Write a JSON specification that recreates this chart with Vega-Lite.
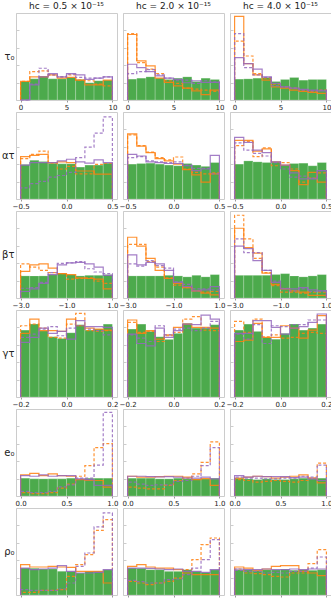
{
"$schema": "https://vega.github.io/schema/vega-lite/v6.json",
"background": "white",
"padding": {"left": 0, "top": 1, "right": 0, "bottom": 1},
"datasets": {
"edges": [
{"r": "τ₀", "x": [0,0,1,2,3,4,5,6,7,8,9,10], "i": [0,1,2,3,4,5,6,7,8,9,10,11]},
{"r": "ατ", "x": [-0.5,-0.5,-0.4,-0.3,-0.2,-0.1,0,0.1,0.2,0.3,0.4,0.5], "i": [0,1,2,3,4,5,6,7,8,9,10,11]},
{"r": "βτ", "x": [-3,-3,-2.6,-2.2,-1.8,-1.4,-1,-0.6,-0.2,0.2,0.6,1], "i": [0,1,2,3,4,5,6,7,8,9,10,11]},
{"r": "γτ", "x": [-0.2,-0.2,-0.16,-0.12,-0.08,-0.04,0,0.04,0.08,0.12,0.16,0.2], "i": [0,1,2,3,4,5,6,7,8,9,10,11]},
{"r": "e₀", "x": [0,0,0.1,0.2,0.3,0.4,0.5,0.6,0.7,0.8,0.9,1], "i": [0,1,2,3,4,5,6,7,8,9,10,11]},
{"r": "ρ₀", "x": [-2,-2,-1.6,-1.2,-0.8,-0.4,0,0.4,0.8,1.2,1.6,2], "i": [0,1,2,3,4,5,6,7,8,9,10,11]}
]
},
"data": {"values": [
{"r":"τ₀","c":1,"s":"g","v":[0,21.3,24.3,27.4,24.3,24.3,25.9,23.6,19.8,22.1,22.8,0]},
{"r":"τ₀","c":1,"s":"os","v":[0,21.3,26.6,26.6,28.9,25.1,25.9,22.8,17.5,17.5,22.8,0]},
{"r":"τ₀","c":1,"s":"od","v":[0,21.3,32.7,33.5,28.9,26.6,28.9,22.8,22.1,18.3,16.3,0]},
{"r":"τ₀","c":1,"s":"ps","v":[0,0,17.5,26.6,30.4,26.6,30.4,28.9,23.6,25.1,26.6,0]},
{"r":"τ₀","c":1,"s":"pd","v":[0,0,18.3,36.5,28.9,26.6,29.7,25.9,25.1,25.1,26.6,0]},
{"r":"τ₀","c":2,"s":"g","v":[0,24,25.1,26.6,25.1,23.6,25.1,26.6,21.3,25.1,23.6,0]},
{"r":"τ₀","c":2,"s":"os","v":[0,75.3,44.9,39.2,25.1,20.2,16.3,13.7,10.6,6.1,11.4,0]},
{"r":"τ₀","c":2,"s":"od","v":[0,76.4,43,35.4,30.4,22.1,19,13.7,12.5,11.4,9.9,0]},
{"r":"τ₀","c":2,"s":"ps","v":[0,41.1,37.3,32.7,27.8,25.1,23.6,19.8,22.1,20.2,20.2,0]},
{"r":"τ₀","c":2,"s":"pd","v":[0,30.4,32.7,35,28.9,25.1,22.1,22.8,19,22.1,20.9,0]},
{"r":"τ₀","c":3,"s":"g","v":[0,24,24.3,25.1,25.9,21.3,23.6,25.9,22.8,23.6,23.6,0]},
{"r":"τ₀","c":3,"s":"os","v":[0,96.2,41.8,28.9,22.8,15.2,13.7,11.4,9.9,8.7,7.6,0]},
{"r":"τ₀","c":3,"s":"od","v":[0,67.7,50.6,30.4,25.1,18.3,15.2,13.7,11.4,9.9,11.4,0]},
{"r":"τ₀","c":3,"s":"ps","v":[0,48.7,41.8,35.4,26.6,19,15.2,13.7,12.2,11.4,10.6,0]},
{"r":"τ₀","c":3,"s":"pd","v":[0,76.4,37.3,28.9,25.9,16.3,15.2,13.7,11.4,10.6,11.4,0]},
{"r":"ατ","c":1,"s":"g","v":[0,39.7,44.6,43.1,41.2,40.4,40.4,36.7,39,39,41.2,0]},
{"r":"ατ","c":1,"s":"os","v":[0,48.7,50.2,51.3,41.9,42.7,41.9,32.2,32.2,28.5,28.5,0]},
{"r":"ατ","c":1,"s":"od","v":[0,46.4,51.3,55.1,41.2,34.5,37.5,28.8,28.8,39.7,40.8,0]},
{"r":"ατ","c":1,"s":"ps","v":[0,39,41.9,41.9,41.9,43.8,45.7,42.7,41.2,44.9,41.9,0]},
{"r":"ατ","c":1,"s":"pd","v":[0,12.7,17.6,20.2,25.1,27,30.7,47.6,59.6,75.7,94.4,0]},
{"r":"ατ","c":2,"s":"g","v":[0,40.1,40.8,41.2,40.1,39,38.2,40.8,39,37.5,41.9,0]},
{"r":"ατ","c":2,"s":"os","v":[0,74.9,60.7,53.2,46.4,43.8,40.1,33.7,27.7,19.5,28.8,0]},
{"r":"ατ","c":2,"s":"od","v":[0,73.8,61.4,53.9,47.6,44.9,48.3,34.5,30.7,28.8,30,0]},
{"r":"ατ","c":2,"s":"ps","v":[0,51.3,49.4,42.7,41.9,40.8,40.8,38.2,32.6,34.5,50.2,0]},
{"r":"ατ","c":2,"s":"pd","v":[0,47.6,48.7,43.8,42.7,41.9,42.7,39,35.2,35.2,28.8,0]},
{"r":"ατ","c":3,"s":"g","v":[0,40.1,43.8,42.7,41.9,42.7,39,40.8,41.2,38.2,41.9,0]},
{"r":"ατ","c":3,"s":"os","v":[0,67.4,67.4,55.1,57.7,42.7,39,32.6,16.5,30.7,19.5,0]},
{"r":"ατ","c":3,"s":"od","v":[0,61.4,66.3,48.7,58.8,38.2,41.9,34.5,19.5,24,30,0]},
{"r":"ατ","c":3,"s":"ps","v":[0,70.8,65.2,56.2,53.2,42.7,39,30,23.2,23.2,32.6,0]},
{"r":"ατ","c":3,"s":"pd","v":[0,64.4,56.2,52.4,49.4,41.9,34.5,25.1,26.2,24,32.6,0]},
{"r":"βτ","c":1,"s":"g","v":[0,25.4,25.4,25.4,26.9,28.4,26.9,25.4,26.1,26.1,26.9,0]},
{"r":"βτ","c":1,"s":"os","v":[0,30.6,38.1,39.2,34.3,28,26.9,23.1,22.4,21.6,10.4,0]},
{"r":"βτ","c":1,"s":"od","v":[0,39.2,35.4,31.7,29.1,28,21.6,22.4,23.1,19.4,16.8,0]},
{"r":"βτ","c":1,"s":"ps","v":[0,7.5,10.4,16.8,26.9,38.1,40.3,41,39.2,35.4,26.1,0]},
{"r":"βτ","c":1,"s":"pd","v":[0,11.2,11.9,17.9,29.1,39.9,40.3,41.8,33.6,29.9,28,0]},
{"r":"βτ","c":2,"s":"g","v":[0,25.4,25.4,25.4,25.4,26.1,25.4,24.3,26.1,24.3,26.9,0]},
{"r":"βτ","c":2,"s":"os","v":[0,69.8,59.7,45.5,31.7,22.4,16.8,11.9,8.2,5.6,3.7,0]},
{"r":"βτ","c":2,"s":"od","v":[0,61.6,61.6,41.8,35.4,23.1,14.9,11.9,8.2,6.7,7.5,0]},
{"r":"βτ","c":2,"s":"ps","v":[0,49.6,38.1,41,39.2,31.7,17.9,13.1,8.2,9.3,13.1,0]},
{"r":"βτ","c":2,"s":"pd","v":[0,39.2,36.6,42.9,37.3,34.3,18.7,15.7,10.4,10.4,9.3,0]},
{"r":"βτ","c":3,"s":"g","v":[0,26.1,26.1,26.1,26.1,26.9,28,25.4,24.3,25.4,26.9,0]},
{"r":"βτ","c":3,"s":"os","v":[0,80.2,57.8,51.5,28.7,15.7,10.4,8.2,6.7,3,3,0]},
{"r":"βτ","c":3,"s":"od","v":[0,95.1,67.9,45.5,29.1,14.2,6.7,6.7,5.6,6.7,6.7,0]},
{"r":"βτ","c":3,"s":"ps","v":[0,59.7,56.7,42.9,31.7,17.9,10.4,10.4,11.9,9.3,8.2,0]},
{"r":"βτ","c":3,"s":"pd","v":[0,67.9,52.2,52.2,31.7,19.4,11.2,8.2,10.4,7.5,8.2,0]},
{"r":"γτ","c":1,"s":"g","v":[0,76.9,83.8,76.2,69.2,67.3,73.8,83.1,76.9,78.1,83.8,0]},
{"r":"γτ","c":1,"s":"os","v":[0,73.1,89.6,76.2,76.2,75.4,89.6,81.9,79.2,78.1,76.9,0]},
{"r":"γτ","c":1,"s":"od","v":[0,81.9,83.8,79.2,68.5,67.7,83.8,96.2,76.2,75.4,76.2,0]},
{"r":"γτ","c":1,"s":"ps","v":[0,62.7,68.5,79.2,73.1,75.4,66.5,87.7,80.8,80.8,80,0]},
{"r":"γτ","c":1,"s":"pd","v":[0,68.5,72.3,78.1,80.8,70.4,79.2,81.9,78.1,76.2,71.5,0]},
{"r":"γτ","c":2,"s":"g","v":[0,78.1,83.8,75.4,69.2,66.2,73.1,84.6,79.2,79.2,83.1,0]},
{"r":"γτ","c":2,"s":"os","v":[0,88.5,73.1,76.2,66.5,71.5,80,83.8,80,80,79.2,0]},
{"r":"γτ","c":2,"s":"od","v":[0,85.8,74.2,75.4,63.8,70.4,74.2,89.6,92.3,76.9,76.2,0]},
{"r":"γτ","c":2,"s":"ps","v":[0,72.3,61.5,58.8,79.2,68.5,76.2,83.8,83.1,94.2,89.6,0]},
{"r":"γτ","c":2,"s":"pd","v":[0,71.5,67.7,63.8,81.9,71.5,78.1,79.2,76.2,79.2,86.9,0]},
{"r":"γτ","c":3,"s":"g","v":[0,76.9,83.8,75.4,68.5,66.5,73.1,83.8,76.9,79.2,83.8,0]},
{"r":"γτ","c":3,"s":"os","v":[0,63.8,65.4,84.6,68.5,68.5,81.9,79.2,67.7,76.9,93.5,0]},
{"r":"γτ","c":3,"s":"od","v":[0,86.9,74.2,89.6,69.2,71.5,67.7,68.5,73.1,74.2,73.1,0]},
{"r":"γτ","c":3,"s":"ps","v":[0,73.1,73.1,87.7,87.7,80,72.3,79.2,80.8,85.8,95.4,0]},
{"r":"γτ","c":3,"s":"pd","v":[0,72.3,66.5,83.1,61.5,81.9,80.8,83.1,83.1,88.5,88.5,0]},
{"r":"e₀","c":1,"s":"g","v":[0,20.5,19.7,19.7,19.7,19.7,20.5,19.7,20.5,20.5,20.5,0]},
{"r":"e₀","c":1,"s":"os","v":[0,24.2,26.1,23.5,25.4,23.5,22.7,18.9,17.8,17.8,10.2,0]},
{"r":"e₀","c":1,"s":"od","v":[0,3.8,2.7,2.7,3.8,9.1,13.6,22.7,34.8,55.7,60.2,0]},
{"r":"e₀","c":1,"s":"ps","v":[0,23.5,22.7,24.2,22.7,23.5,23.5,19.7,18.9,12.1,12.1,0]},
{"r":"e₀","c":1,"s":"pd","v":[0,5.3,3.8,3.8,5.3,10.6,12.9,20.5,20.5,35.6,96.2,0]},
{"r":"e₀","c":2,"s":"g","v":[0,20.5,20.5,20.5,19.7,19.7,20.5,19.7,19.7,19.7,20.5,0]},
{"r":"e₀","c":2,"s":"os","v":[0,22.7,21.6,21.6,22.3,22.7,22.7,21.6,18.9,20,12.1,0]},
{"r":"e₀","c":2,"s":"od","v":[0,10.2,9.1,8.3,8.3,12.1,17.8,20.5,25.4,38.6,62.1,0]},
{"r":"e₀","c":2,"s":"ps","v":[0,22.7,22.7,22.3,22,22.3,21.6,20.5,20.5,21.6,19.7,0]},
{"r":"e₀","c":2,"s":"pd","v":[0,15.9,13.6,12.1,12.9,12.9,16.7,17.8,22.7,34.8,55.7,0]},
{"r":"e₀","c":3,"s":"g","v":[0,20.5,19.7,18.9,19.7,18.9,18.9,19.7,20.5,19.7,20.5,0]},
{"r":"e₀","c":3,"s":"os","v":[0,20.5,21.6,22.7,22.3,20.5,21.6,22.7,24.2,20.5,15.2,0]},
{"r":"e₀","c":3,"s":"od","v":[0,18.9,17.8,15.9,16.7,17.8,16.7,15.9,17.8,20.5,37.9,0]},
{"r":"e₀","c":3,"s":"ps","v":[0,23.5,21.6,22.7,22.3,22.3,22.3,21.2,21.6,19.7,17.8,0]},
{"r":"e₀","c":3,"s":"pd","v":[0,21.6,20.5,20.5,19.7,19.7,20.5,20.5,22.7,21.6,35.6,0]},
{"r":"ρ₀","c":1,"s":"g","v":[0,31,30.7,29.9,29.9,27.2,27.2,25.3,27.2,27.2,29.1,0]},
{"r":"ρ₀","c":1,"s":"os","v":[0,34.9,32.2,32.2,33,32.2,31.8,27.2,27.2,27.2,13.8,0]},
{"r":"ρ₀","c":1,"s":"od","v":[0,3.1,3.1,5.4,5.4,6.1,21.5,34.9,46.4,74.3,86.6,0]},
{"r":"ρ₀","c":1,"s":"ps","v":[0,31,29.1,29.9,31,33.7,27.2,25.3,25.3,26.1,29.1,0]},
{"r":"ρ₀","c":1,"s":"pd","v":[0,6.1,5.4,5.4,5.4,6.9,13.8,33,48.3,78.2,94.3,0]},
{"r":"ρ₀","c":2,"s":"g","v":[0,31,30.7,29.1,29.1,27.2,27.2,29.1,27.2,26.1,29.1,0]},
{"r":"ρ₀","c":2,"s":"os","v":[0,33,34.9,32.2,31,31,29.1,25.3,23.4,23.4,23.4,0]},
{"r":"ρ₀","c":2,"s":"od","v":[0,15.7,13.8,11.9,13.8,15.7,19.5,29.1,40.6,57.9,65.5,0]},
{"r":"ρ₀","c":2,"s":"ps","v":[0,31,31,30.7,29.9,29.1,29.9,27.2,27.2,26.1,29.1,0]},
{"r":"ρ₀","c":2,"s":"pd","v":[0,16.9,15.3,13.8,13.8,17.6,18.4,23.4,31,40.6,63.6,0]},
{"r":"ρ₀","c":3,"s":"g","v":[0,29.1,29.1,28,29.1,29.1,29.9,28.4,29.1,28.4,29.1,0]},
{"r":"ρ₀","c":3,"s":"os","v":[0,32.2,31,28.4,29.9,33,33.7,33.7,27.2,25.3,22.2,0]},
{"r":"ρ₀","c":3,"s":"od","v":[0,29.9,25.3,24.5,23.4,21.5,20.7,25.3,25.3,36,52.1,0]},
{"r":"ρ₀","c":3,"s":"ps","v":[0,29.9,29.1,29.1,29.9,29.1,29.1,29.9,29.1,29.9,29.9,0]},
{"r":"ρ₀","c":3,"s":"pd","v":[0,28.4,27.2,27.2,25.3,26.1,25.3,27.2,27.2,31,43.7,0]}
]},
"transform": [
{"lookup": "r", "from": {"data": {"name": "edges"}, "key": "r", "fields": ["x", "i"]}},
{"flatten": ["x", "v", "i"]},
{"window": [{"op": "lead", "field": "x", "as": "x2"}], "groupby": ["r", "c", "s"], "sort": [{"field": "i"}]}
],
"spacing": 0,
"config": {
"font": "DejaVu Sans",
"view": {"stroke": "#cccccc", "strokeWidth": 1},
"concat": {"spacing": 6},
"rect": {"color": "#4caa4c", "stroke": "#ffffff", "strokeWidth": 0.4, "strokeOpacity": 0.5},
"line": {"interpolate": "step-after", "strokeWidth": 1.2, "opacity": 0.85},
"title": {"fontSize": 9, "fontWeight": "normal", "color": "#222222", "offset": 2},
"axisX": {"title": null, "grid": false, "domain": false, "tickSize": 2, "tickColor": "#999999", "labelFontSize": 7, "labelColor": "#222222", "labelPadding": 1, "labelFlush": false, "labelOverlap": false, "minExtent": 0},
"axisY": {"title": null, "grid": false, "domain": false, "labels": false, "tickSize": -3, "tickColor": "#cccccc", "tickCount": 5, "minExtent": 0, "maxExtent": 0, "titleAngle": 0, "titleAlign": "right", "titleBaseline": "middle", "titleFontSize": 10, "titleFontWeight": "normal", "titleColor": "#222222", "titlePadding": 2}
},
"vconcat": [
{"hconcat": [
 {"width": 101, "height": 87, "title": "hc = 0.5 × 10⁻¹⁵", "transform": [{"filter": "datum.r == 'τ₀' && datum.c == 1"}], "layer": [
  {"transform": [{"filter": "datum.s == 'g' && datum.i >= 1 && datum.i <= 10"}], "mark": "rect", "encoding": {"x": {"field": "x", "type": "quantitative", "scale": {"domain": [-0.5, 10.5], "nice": false, "zero": false}, "axis": {"values": [0, 5, 10], "format": "d"}}, "x2": {"field": "x2"}, "y": {"field": "v", "type": "quantitative", "scale": {"domain": [0, 100], "nice": false}, "axis": {"title": "τ₀"}}, "y2": {"datum": 0}}},
  {"transform": [{"filter": "datum.s != 'g'"}], "mark": "line", "encoding": {"x": {"field": "x", "type": "quantitative"}, "y": {"field": "v", "type": "quantitative"}, "color": {"field": "s", "type": "nominal", "scale": {"domain": ["os", "od", "ps", "pd"], "range": ["#ff7f0e", "#ff7f0e", "#9467bd", "#9467bd"]}, "legend": null}, "strokeDash": {"field": "s", "type": "nominal", "scale": {"domain": ["os", "od", "ps", "pd"], "range": [[1, 0], [3, 2], [1, 0], [3, 2]]}, "legend": null}, "order": {"field": "i"}}}]},
 {"width": 101, "height": 87, "title": "hc = 2.0 × 10⁻¹⁵", "transform": [{"filter": "datum.r == 'τ₀' && datum.c == 2"}], "layer": [
  {"transform": [{"filter": "datum.s == 'g' && datum.i >= 1 && datum.i <= 10"}], "mark": "rect", "encoding": {"x": {"field": "x", "type": "quantitative", "scale": {"domain": [-0.5, 10.5], "nice": false, "zero": false}, "axis": {"values": [0, 5, 10], "format": "d"}}, "x2": {"field": "x2"}, "y": {"field": "v", "type": "quantitative", "scale": {"domain": [0, 100], "nice": false}}, "y2": {"datum": 0}}},
  {"transform": [{"filter": "datum.s != 'g'"}], "mark": "line", "encoding": {"x": {"field": "x", "type": "quantitative"}, "y": {"field": "v", "type": "quantitative"}, "color": {"field": "s", "type": "nominal", "scale": {"domain": ["os", "od", "ps", "pd"], "range": ["#ff7f0e", "#ff7f0e", "#9467bd", "#9467bd"]}, "legend": null}, "strokeDash": {"field": "s", "type": "nominal", "scale": {"domain": ["os", "od", "ps", "pd"], "range": [[1, 0], [3, 2], [1, 0], [3, 2]]}, "legend": null}, "order": {"field": "i"}}}]},
 {"width": 101, "height": 87, "title": "hc = 4.0 × 10⁻¹⁵", "transform": [{"filter": "datum.r == 'τ₀' && datum.c == 3"}], "layer": [
  {"transform": [{"filter": "datum.s == 'g' && datum.i >= 1 && datum.i <= 10"}], "mark": "rect", "encoding": {"x": {"field": "x", "type": "quantitative", "scale": {"domain": [-0.5, 10.5], "nice": false, "zero": false}, "axis": {"values": [0, 5, 10], "format": "d"}}, "x2": {"field": "x2"}, "y": {"field": "v", "type": "quantitative", "scale": {"domain": [0, 100], "nice": false}}, "y2": {"datum": 0}}},
  {"transform": [{"filter": "datum.s != 'g'"}], "mark": "line", "encoding": {"x": {"field": "x", "type": "quantitative"}, "y": {"field": "v", "type": "quantitative"}, "color": {"field": "s", "type": "nominal", "scale": {"domain": ["os", "od", "ps", "pd"], "range": ["#ff7f0e", "#ff7f0e", "#9467bd", "#9467bd"]}, "legend": null}, "strokeDash": {"field": "s", "type": "nominal", "scale": {"domain": ["os", "od", "ps", "pd"], "range": [[1, 0], [3, 2], [1, 0], [3, 2]]}, "legend": null}, "order": {"field": "i"}}}]}
], "bounds": "flush"},
{"hconcat": [
 {"width": 101, "height": 87, "transform": [{"filter": "datum.r == 'ατ' && datum.c == 1"}], "layer": [
  {"transform": [{"filter": "datum.s == 'g' && datum.i >= 1 && datum.i <= 10"}], "mark": "rect", "encoding": {"x": {"field": "x", "type": "quantitative", "scale": {"domain": [-0.55, 0.55], "nice": false, "zero": false}, "axis": {"values": [-0.5, 0, 0.5], "format": ".1f"}}, "x2": {"field": "x2"}, "y": {"field": "v", "type": "quantitative", "scale": {"domain": [0, 100], "nice": false}, "axis": {"title": "ατ"}}, "y2": {"datum": 0}}},
  {"transform": [{"filter": "datum.s != 'g'"}], "mark": "line", "encoding": {"x": {"field": "x", "type": "quantitative"}, "y": {"field": "v", "type": "quantitative"}, "color": {"field": "s", "type": "nominal", "scale": {"domain": ["os", "od", "ps", "pd"], "range": ["#ff7f0e", "#ff7f0e", "#9467bd", "#9467bd"]}, "legend": null}, "strokeDash": {"field": "s", "type": "nominal", "scale": {"domain": ["os", "od", "ps", "pd"], "range": [[1, 0], [3, 2], [1, 0], [3, 2]]}, "legend": null}, "order": {"field": "i"}}}]},
 {"width": 101, "height": 87, "transform": [{"filter": "datum.r == 'ατ' && datum.c == 2"}], "layer": [
  {"transform": [{"filter": "datum.s == 'g' && datum.i >= 1 && datum.i <= 10"}], "mark": "rect", "encoding": {"x": {"field": "x", "type": "quantitative", "scale": {"domain": [-0.55, 0.55], "nice": false, "zero": false}, "axis": {"values": [-0.5, 0, 0.5], "format": ".1f"}}, "x2": {"field": "x2"}, "y": {"field": "v", "type": "quantitative", "scale": {"domain": [0, 100], "nice": false}}, "y2": {"datum": 0}}},
  {"transform": [{"filter": "datum.s != 'g'"}], "mark": "line", "encoding": {"x": {"field": "x", "type": "quantitative"}, "y": {"field": "v", "type": "quantitative"}, "color": {"field": "s", "type": "nominal", "scale": {"domain": ["os", "od", "ps", "pd"], "range": ["#ff7f0e", "#ff7f0e", "#9467bd", "#9467bd"]}, "legend": null}, "strokeDash": {"field": "s", "type": "nominal", "scale": {"domain": ["os", "od", "ps", "pd"], "range": [[1, 0], [3, 2], [1, 0], [3, 2]]}, "legend": null}, "order": {"field": "i"}}}]},
 {"width": 101, "height": 87, "transform": [{"filter": "datum.r == 'ατ' && datum.c == 3"}], "layer": [
  {"transform": [{"filter": "datum.s == 'g' && datum.i >= 1 && datum.i <= 10"}], "mark": "rect", "encoding": {"x": {"field": "x", "type": "quantitative", "scale": {"domain": [-0.55, 0.55], "nice": false, "zero": false}, "axis": {"values": [-0.5, 0, 0.5], "format": ".1f"}}, "x2": {"field": "x2"}, "y": {"field": "v", "type": "quantitative", "scale": {"domain": [0, 100], "nice": false}}, "y2": {"datum": 0}}},
  {"transform": [{"filter": "datum.s != 'g'"}], "mark": "line", "encoding": {"x": {"field": "x", "type": "quantitative"}, "y": {"field": "v", "type": "quantitative"}, "color": {"field": "s", "type": "nominal", "scale": {"domain": ["os", "od", "ps", "pd"], "range": ["#ff7f0e", "#ff7f0e", "#9467bd", "#9467bd"]}, "legend": null}, "strokeDash": {"field": "s", "type": "nominal", "scale": {"domain": ["os", "od", "ps", "pd"], "range": [[1, 0], [3, 2], [1, 0], [3, 2]]}, "legend": null}, "order": {"field": "i"}}}]}
], "bounds": "flush"},
{"hconcat": [
 {"width": 101, "height": 87, "transform": [{"filter": "datum.r == 'βτ' && datum.c == 1"}], "layer": [
  {"transform": [{"filter": "datum.s == 'g' && datum.i >= 1 && datum.i <= 10"}], "mark": "rect", "encoding": {"x": {"field": "x", "type": "quantitative", "scale": {"domain": [-3.2, 1.2], "nice": false, "zero": false}, "axis": {"values": [-3, -2, -1, 0, 1], "format": ".1f"}}, "x2": {"field": "x2"}, "y": {"field": "v", "type": "quantitative", "scale": {"domain": [0, 100], "nice": false}, "axis": {"title": "βτ"}}, "y2": {"datum": 0}}},
  {"transform": [{"filter": "datum.s != 'g'"}], "mark": "line", "encoding": {"x": {"field": "x", "type": "quantitative"}, "y": {"field": "v", "type": "quantitative"}, "color": {"field": "s", "type": "nominal", "scale": {"domain": ["os", "od", "ps", "pd"], "range": ["#ff7f0e", "#ff7f0e", "#9467bd", "#9467bd"]}, "legend": null}, "strokeDash": {"field": "s", "type": "nominal", "scale": {"domain": ["os", "od", "ps", "pd"], "range": [[1, 0], [3, 2], [1, 0], [3, 2]]}, "legend": null}, "order": {"field": "i"}}}]},
 {"width": 101, "height": 87, "transform": [{"filter": "datum.r == 'βτ' && datum.c == 2"}], "layer": [
  {"transform": [{"filter": "datum.s == 'g' && datum.i >= 1 && datum.i <= 10"}], "mark": "rect", "encoding": {"x": {"field": "x", "type": "quantitative", "scale": {"domain": [-3.2, 1.2], "nice": false, "zero": false}, "axis": {"values": [-3, -2, -1, 0, 1], "format": ".1f"}}, "x2": {"field": "x2"}, "y": {"field": "v", "type": "quantitative", "scale": {"domain": [0, 100], "nice": false}}, "y2": {"datum": 0}}},
  {"transform": [{"filter": "datum.s != 'g'"}], "mark": "line", "encoding": {"x": {"field": "x", "type": "quantitative"}, "y": {"field": "v", "type": "quantitative"}, "color": {"field": "s", "type": "nominal", "scale": {"domain": ["os", "od", "ps", "pd"], "range": ["#ff7f0e", "#ff7f0e", "#9467bd", "#9467bd"]}, "legend": null}, "strokeDash": {"field": "s", "type": "nominal", "scale": {"domain": ["os", "od", "ps", "pd"], "range": [[1, 0], [3, 2], [1, 0], [3, 2]]}, "legend": null}, "order": {"field": "i"}}}]},
 {"width": 101, "height": 87, "transform": [{"filter": "datum.r == 'βτ' && datum.c == 3"}], "layer": [
  {"transform": [{"filter": "datum.s == 'g' && datum.i >= 1 && datum.i <= 10"}], "mark": "rect", "encoding": {"x": {"field": "x", "type": "quantitative", "scale": {"domain": [-3.2, 1.2], "nice": false, "zero": false}, "axis": {"values": [-3, -2, -1, 0, 1], "format": ".1f"}}, "x2": {"field": "x2"}, "y": {"field": "v", "type": "quantitative", "scale": {"domain": [0, 100], "nice": false}}, "y2": {"datum": 0}}},
  {"transform": [{"filter": "datum.s != 'g'"}], "mark": "line", "encoding": {"x": {"field": "x", "type": "quantitative"}, "y": {"field": "v", "type": "quantitative"}, "color": {"field": "s", "type": "nominal", "scale": {"domain": ["os", "od", "ps", "pd"], "range": ["#ff7f0e", "#ff7f0e", "#9467bd", "#9467bd"]}, "legend": null}, "strokeDash": {"field": "s", "type": "nominal", "scale": {"domain": ["os", "od", "ps", "pd"], "range": [[1, 0], [3, 2], [1, 0], [3, 2]]}, "legend": null}, "order": {"field": "i"}}}]}
], "bounds": "flush"},
{"hconcat": [
 {"width": 101, "height": 87, "transform": [{"filter": "datum.r == 'γτ' && datum.c == 1"}], "layer": [
  {"transform": [{"filter": "datum.s == 'g' && datum.i >= 1 && datum.i <= 10"}], "mark": "rect", "encoding": {"x": {"field": "x", "type": "quantitative", "scale": {"domain": [-0.22, 0.22], "nice": false, "zero": false}, "axis": {"values": [-0.2, -0.1, 0, 0.1, 0.2], "format": ".1f"}}, "x2": {"field": "x2"}, "y": {"field": "v", "type": "quantitative", "scale": {"domain": [0, 100], "nice": false}, "axis": {"title": "γτ"}}, "y2": {"datum": 0}}},
  {"transform": [{"filter": "datum.s != 'g'"}], "mark": "line", "encoding": {"x": {"field": "x", "type": "quantitative"}, "y": {"field": "v", "type": "quantitative"}, "color": {"field": "s", "type": "nominal", "scale": {"domain": ["os", "od", "ps", "pd"], "range": ["#ff7f0e", "#ff7f0e", "#9467bd", "#9467bd"]}, "legend": null}, "strokeDash": {"field": "s", "type": "nominal", "scale": {"domain": ["os", "od", "ps", "pd"], "range": [[1, 0], [3, 2], [1, 0], [3, 2]]}, "legend": null}, "order": {"field": "i"}}}]},
 {"width": 101, "height": 87, "transform": [{"filter": "datum.r == 'γτ' && datum.c == 2"}], "layer": [
  {"transform": [{"filter": "datum.s == 'g' && datum.i >= 1 && datum.i <= 10"}], "mark": "rect", "encoding": {"x": {"field": "x", "type": "quantitative", "scale": {"domain": [-0.22, 0.22], "nice": false, "zero": false}, "axis": {"values": [-0.2, -0.1, 0, 0.1, 0.2], "format": ".1f"}}, "x2": {"field": "x2"}, "y": {"field": "v", "type": "quantitative", "scale": {"domain": [0, 100], "nice": false}}, "y2": {"datum": 0}}},
  {"transform": [{"filter": "datum.s != 'g'"}], "mark": "line", "encoding": {"x": {"field": "x", "type": "quantitative"}, "y": {"field": "v", "type": "quantitative"}, "color": {"field": "s", "type": "nominal", "scale": {"domain": ["os", "od", "ps", "pd"], "range": ["#ff7f0e", "#ff7f0e", "#9467bd", "#9467bd"]}, "legend": null}, "strokeDash": {"field": "s", "type": "nominal", "scale": {"domain": ["os", "od", "ps", "pd"], "range": [[1, 0], [3, 2], [1, 0], [3, 2]]}, "legend": null}, "order": {"field": "i"}}}]},
 {"width": 101, "height": 87, "transform": [{"filter": "datum.r == 'γτ' && datum.c == 3"}], "layer": [
  {"transform": [{"filter": "datum.s == 'g' && datum.i >= 1 && datum.i <= 10"}], "mark": "rect", "encoding": {"x": {"field": "x", "type": "quantitative", "scale": {"domain": [-0.22, 0.22], "nice": false, "zero": false}, "axis": {"values": [-0.2, -0.1, 0, 0.1, 0.2], "format": ".1f"}}, "x2": {"field": "x2"}, "y": {"field": "v", "type": "quantitative", "scale": {"domain": [0, 100], "nice": false}}, "y2": {"datum": 0}}},
  {"transform": [{"filter": "datum.s != 'g'"}], "mark": "line", "encoding": {"x": {"field": "x", "type": "quantitative"}, "y": {"field": "v", "type": "quantitative"}, "color": {"field": "s", "type": "nominal", "scale": {"domain": ["os", "od", "ps", "pd"], "range": ["#ff7f0e", "#ff7f0e", "#9467bd", "#9467bd"]}, "legend": null}, "strokeDash": {"field": "s", "type": "nominal", "scale": {"domain": ["os", "od", "ps", "pd"], "range": [[1, 0], [3, 2], [1, 0], [3, 2]]}, "legend": null}, "order": {"field": "i"}}}]}
], "bounds": "flush"},
{"hconcat": [
 {"width": 101, "height": 87, "transform": [{"filter": "datum.r == 'e₀' && datum.c == 1"}], "layer": [
  {"transform": [{"filter": "datum.s == 'g' && datum.i >= 1 && datum.i <= 10"}], "mark": "rect", "encoding": {"x": {"field": "x", "type": "quantitative", "scale": {"domain": [-0.05, 1.05], "nice": false, "zero": false}, "axis": {"values": [0, 0.5, 1], "format": ".1f"}}, "x2": {"field": "x2"}, "y": {"field": "v", "type": "quantitative", "scale": {"domain": [0, 100], "nice": false}, "axis": {"title": "e₀"}}, "y2": {"datum": 0}}},
  {"transform": [{"filter": "datum.s != 'g'"}], "mark": "line", "encoding": {"x": {"field": "x", "type": "quantitative"}, "y": {"field": "v", "type": "quantitative"}, "color": {"field": "s", "type": "nominal", "scale": {"domain": ["os", "od", "ps", "pd"], "range": ["#ff7f0e", "#ff7f0e", "#9467bd", "#9467bd"]}, "legend": null}, "strokeDash": {"field": "s", "type": "nominal", "scale": {"domain": ["os", "od", "ps", "pd"], "range": [[1, 0], [3, 2], [1, 0], [3, 2]]}, "legend": null}, "order": {"field": "i"}}}]},
 {"width": 101, "height": 87, "transform": [{"filter": "datum.r == 'e₀' && datum.c == 2"}], "layer": [
  {"transform": [{"filter": "datum.s == 'g' && datum.i >= 1 && datum.i <= 10"}], "mark": "rect", "encoding": {"x": {"field": "x", "type": "quantitative", "scale": {"domain": [-0.05, 1.05], "nice": false, "zero": false}, "axis": {"values": [0, 0.5, 1], "format": ".1f"}}, "x2": {"field": "x2"}, "y": {"field": "v", "type": "quantitative", "scale": {"domain": [0, 100], "nice": false}}, "y2": {"datum": 0}}},
  {"transform": [{"filter": "datum.s != 'g'"}], "mark": "line", "encoding": {"x": {"field": "x", "type": "quantitative"}, "y": {"field": "v", "type": "quantitative"}, "color": {"field": "s", "type": "nominal", "scale": {"domain": ["os", "od", "ps", "pd"], "range": ["#ff7f0e", "#ff7f0e", "#9467bd", "#9467bd"]}, "legend": null}, "strokeDash": {"field": "s", "type": "nominal", "scale": {"domain": ["os", "od", "ps", "pd"], "range": [[1, 0], [3, 2], [1, 0], [3, 2]]}, "legend": null}, "order": {"field": "i"}}}]},
 {"width": 101, "height": 87, "transform": [{"filter": "datum.r == 'e₀' && datum.c == 3"}], "layer": [
  {"transform": [{"filter": "datum.s == 'g' && datum.i >= 1 && datum.i <= 10"}], "mark": "rect", "encoding": {"x": {"field": "x", "type": "quantitative", "scale": {"domain": [-0.05, 1.05], "nice": false, "zero": false}, "axis": {"values": [0, 0.5, 1], "format": ".1f"}}, "x2": {"field": "x2"}, "y": {"field": "v", "type": "quantitative", "scale": {"domain": [0, 100], "nice": false}}, "y2": {"datum": 0}}},
  {"transform": [{"filter": "datum.s != 'g'"}], "mark": "line", "encoding": {"x": {"field": "x", "type": "quantitative"}, "y": {"field": "v", "type": "quantitative"}, "color": {"field": "s", "type": "nominal", "scale": {"domain": ["os", "od", "ps", "pd"], "range": ["#ff7f0e", "#ff7f0e", "#9467bd", "#9467bd"]}, "legend": null}, "strokeDash": {"field": "s", "type": "nominal", "scale": {"domain": ["os", "od", "ps", "pd"], "range": [[1, 0], [3, 2], [1, 0], [3, 2]]}, "legend": null}, "order": {"field": "i"}}}]}
], "bounds": "flush"},
{"hconcat": [
 {"width": 101, "height": 87, "transform": [{"filter": "datum.r == 'ρ₀' && datum.c == 1"}], "layer": [
  {"transform": [{"filter": "datum.s == 'g' && datum.i >= 1 && datum.i <= 10"}], "mark": "rect", "encoding": {"x": {"field": "x", "type": "quantitative", "scale": {"domain": [-2.2, 2.2], "nice": false, "zero": false}, "axis": {"values": [-2, -1, 0, 1, 2], "format": ".1f"}}, "x2": {"field": "x2"}, "y": {"field": "v", "type": "quantitative", "scale": {"domain": [0, 100], "nice": false}, "axis": {"title": "ρ₀"}}, "y2": {"datum": 0}}},
  {"transform": [{"filter": "datum.s != 'g'"}], "mark": "line", "encoding": {"x": {"field": "x", "type": "quantitative"}, "y": {"field": "v", "type": "quantitative"}, "color": {"field": "s", "type": "nominal", "scale": {"domain": ["os", "od", "ps", "pd"], "range": ["#ff7f0e", "#ff7f0e", "#9467bd", "#9467bd"]}, "legend": null}, "strokeDash": {"field": "s", "type": "nominal", "scale": {"domain": ["os", "od", "ps", "pd"], "range": [[1, 0], [3, 2], [1, 0], [3, 2]]}, "legend": null}, "order": {"field": "i"}}}]},
 {"width": 101, "height": 87, "transform": [{"filter": "datum.r == 'ρ₀' && datum.c == 2"}], "layer": [
  {"transform": [{"filter": "datum.s == 'g' && datum.i >= 1 && datum.i <= 10"}], "mark": "rect", "encoding": {"x": {"field": "x", "type": "quantitative", "scale": {"domain": [-2.2, 2.2], "nice": false, "zero": false}, "axis": {"values": [-2, -1, 0, 1, 2], "format": ".1f"}}, "x2": {"field": "x2"}, "y": {"field": "v", "type": "quantitative", "scale": {"domain": [0, 100], "nice": false}}, "y2": {"datum": 0}}},
  {"transform": [{"filter": "datum.s != 'g'"}], "mark": "line", "encoding": {"x": {"field": "x", "type": "quantitative"}, "y": {"field": "v", "type": "quantitative"}, "color": {"field": "s", "type": "nominal", "scale": {"domain": ["os", "od", "ps", "pd"], "range": ["#ff7f0e", "#ff7f0e", "#9467bd", "#9467bd"]}, "legend": null}, "strokeDash": {"field": "s", "type": "nominal", "scale": {"domain": ["os", "od", "ps", "pd"], "range": [[1, 0], [3, 2], [1, 0], [3, 2]]}, "legend": null}, "order": {"field": "i"}}}]},
 {"width": 101, "height": 87, "transform": [{"filter": "datum.r == 'ρ₀' && datum.c == 3"}], "layer": [
  {"transform": [{"filter": "datum.s == 'g' && datum.i >= 1 && datum.i <= 10"}], "mark": "rect", "encoding": {"x": {"field": "x", "type": "quantitative", "scale": {"domain": [-2.2, 2.2], "nice": false, "zero": false}, "axis": {"values": [-2, -1, 0, 1, 2], "format": ".1f"}}, "x2": {"field": "x2"}, "y": {"field": "v", "type": "quantitative", "scale": {"domain": [0, 100], "nice": false}}, "y2": {"datum": 0}}},
  {"transform": [{"filter": "datum.s != 'g'"}], "mark": "line", "encoding": {"x": {"field": "x", "type": "quantitative"}, "y": {"field": "v", "type": "quantitative"}, "color": {"field": "s", "type": "nominal", "scale": {"domain": ["os", "od", "ps", "pd"], "range": ["#ff7f0e", "#ff7f0e", "#9467bd", "#9467bd"]}, "legend": null}, "strokeDash": {"field": "s", "type": "nominal", "scale": {"domain": ["os", "od", "ps", "pd"], "range": [[1, 0], [3, 2], [1, 0], [3, 2]]}, "legend": null}, "order": {"field": "i"}}}]}
], "bounds": "flush"}
]
}
